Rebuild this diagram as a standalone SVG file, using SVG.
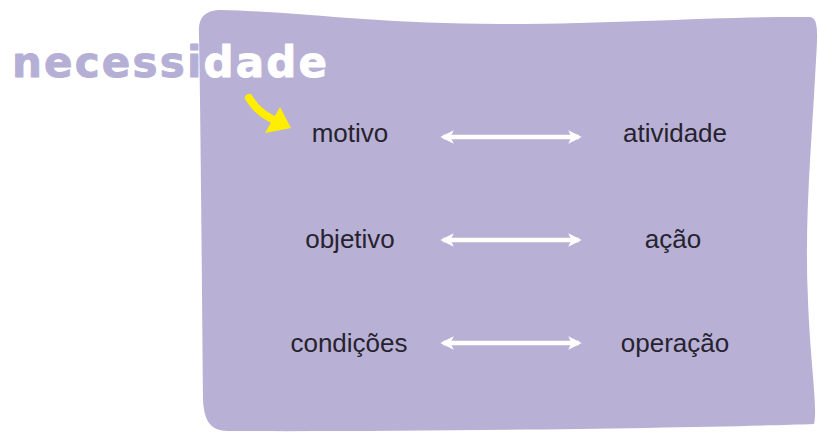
<svg xmlns="http://www.w3.org/2000/svg" width="818" height="432" viewBox="0 0 818 432">
<style>
.lbl{font-family:"Liberation Sans",Arial,sans-serif;font-size:26px;fill:#26232f;text-anchor:middle}
.big{font-family:"DejaVu Sans",Verdana,sans-serif;font-weight:bold;font-size:42px;stroke-width:0.9;stroke-linejoin:round}
.conn{stroke:#ffffff;stroke-width:4.5;fill:none;marker-start:url(#ah);marker-end:url(#ah)}
</style>
<defs>
<path id="blobPath" d="M199 34 C198 18 204 10 222 10 C300 12 380 24 500 24 C620 24 720 16 810 17 C818 18 818 30 816 60 C812 140 804 220 808 300 C810 360 818 410 814 424 C700 428 400 432 228 431 C210 431 204 420 203 400 C202 300 201 150 199 34 Z"/>
<clipPath id="blobClip"><use href="#blobPath"/></clipPath>
<marker id="ah" viewBox="0 0 10 10" refX="8" refY="5" markerWidth="3" markerHeight="3" orient="auto-start-reverse" markerUnits="strokeWidth">
<path d="M0 0 L10 5 L0 10 L2.5 5 Z" fill="#ffffff"/>
</marker>
</defs>
<rect width="818" height="432" fill="#ffffff"/>
<g id="blob"><use href="#blobPath" fill="#b9b1d5"/></g>
<g id="title">
<text class="big" x="12" y="77" textLength="315" lengthAdjust="spacing" fill="#b5afd6" stroke="#b5afd6">necessidade</text>
<text class="big" x="12" y="77" textLength="315" lengthAdjust="spacing" fill="#ffffff" stroke="#ffffff" clip-path="url(#blobClip)">necessidade</text>
</g>
<g id="yellow-arrow">
<path d="M249 98 C255 108 262 114 272 119" stroke="#ffee00" stroke-width="8" stroke-linecap="round" fill="none"/>
<path d="M280 107 L291 128 L265 133 Z" fill="#ffee00"/>
</g>
<g id="connectors">
<line class="conn" x1="443" y1="137" x2="579" y2="137"/>
<line class="conn" x1="443" y1="240" x2="579" y2="240"/>
<line class="conn" x1="443" y1="343" x2="579" y2="343"/>
</g>
<g id="motivo"><text class="lbl" x="350" y="142">motivo</text></g>
<g id="atividade"><text class="lbl" x="675" y="142">atividade</text></g>
<g id="objetivo"><text class="lbl" x="350" y="248">objetivo</text></g>
<g id="acao"><text class="lbl" x="673" y="248">ação</text></g>
<g id="condicoes"><text class="lbl" x="349" y="352">condições</text></g>
<g id="operacao"><text class="lbl" x="675" y="352">operação</text></g>
</svg>
